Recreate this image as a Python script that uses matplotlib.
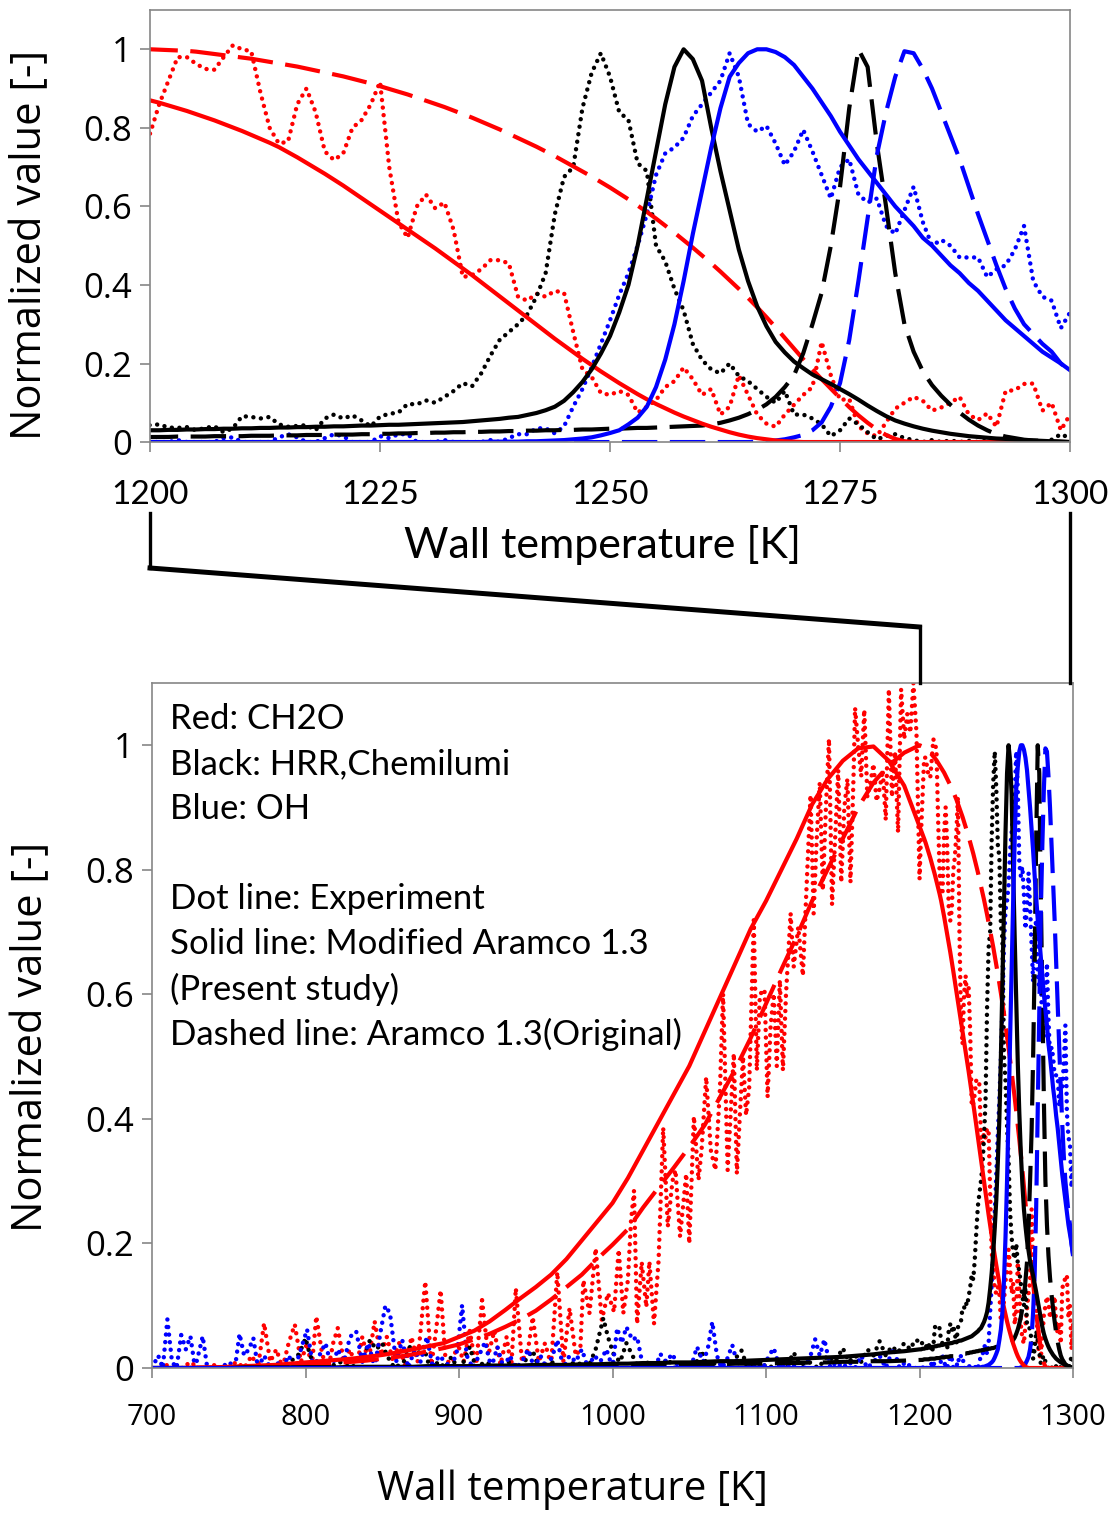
import matplotlib
matplotlib.use("Agg")
import matplotlib.pyplot as plt
from matplotlib.lines import Line2D

# ---------------- data ----------------
# model grid: coarse part for the overview, 1 K steps for the zoom range
T_coarse = list(range(700, 1200, 10))
T_fine = list(range(1200, 1301))
T_model = T_coarse + T_fine

# CH2O, modified Aramco 1.3 (solid)
red_solid = [0, 0, 0, .001, .001, .002, .003, .004, .005, .007,
             .009, .011, .013, .015, .018, .021, .025, .030, .035, .040,
             .050, .060, .075, .093, .112, .130, .150, .175, .205, .235,
             .265, .305, .350, .395, .440, .485, .540, .595, .650, .705,
             .750, .800, .850, .905, .945, .975, .995, .998, .975, .935,
             # 1200-1300
             .870, .864, .857, .850, .843, .835, .827, .819, .810, .801,
             .792, .782, .772, .762, .751, .738, .725, .711, .697, .683,
             .668, .653, .637, .621, .605, .589, .573, .557, .541, .525,
             .509, .493, .476, .459, .442, .425, .407, .389, .371, .353,
             .335, .317, .299, .281, .263, .246, .229, .212, .196, .180,
             .165, .150, .136, .122, .109, .097, .086, .075, .065, .056,
             .047, .039, .032, .025, .019, .014, .010, .007, .004, .002,
             .001, 0, 0, 0, 0, 0, 0, 0, 0, 0,
             0, 0, 0, 0, 0, 0, 0, 0, 0, 0,
             0, 0, 0, 0, 0, 0, 0, 0, 0, 0,
             0]

# CH2O, original Aramco 1.3 (dashed)
red_dashed = [0, 0, 0, 0, .001, .001, .002, .002, .003, .004,
              .005, .006, .008, .010, .012, .015, .018, .022, .027, .032,
              .038, .046, .055, .066, .078, .092, .110, .130, .150, .175,
              .198, .223, .258, .290, .322, .355, .390, .435, .480, .530,
              .585, .640, .693, .750, .800, .850, .900, .940, .968, .988,
              # 1200-1300
              1.000, .999, .998, .997, .996, .994, .991, .988, .985, .982,
              .979, .976, .972, .968, .964, .960, .956, .951, .946, .941,
              .936, .931, .925, .919, .913, .906, .899, .892, .885, .877,
              .869, .861, .853, .844, .835, .826, .816, .806, .796, .785,
              .774, .763, .752, .740, .728, .715, .702, .689, .676, .662,
              .648, .633, .618, .602, .586, .569, .551, .533, .514, .495,
              .475, .455, .434, .412, .390, .367, .343, .318, .292, .265,
              .238, .211, .185, .160, .136, .112, .089, .068, .049, .032,
              .018, .008, .002, 0, 0, 0, 0, 0, 0, 0,
              0, 0, 0, 0, 0, 0, 0, 0, 0, 0,
              0]

# HRR, modified (solid)
black_solid = [0, 0, 0, 0, 0, 0, .001, .001, .001, .001,
               .001, .001, .001, .002, .002, .002, .002, .002, .003, .003,
               .003, .003, .004, .004, .004, .005, .005, .005, .006, .006,
               .007, .007, .008, .008, .009, .009, .010, .011, .011, .012,
               .013, .014, .015, .016, .017, .018, .020, .022, .025, .027,
               # 1200-1300
               .030, .030, .031, .031, .032, .032, .033, .033, .034, .034,
               .035, .035, .036, .036, .037, .037, .038, .038, .039, .039,
               .040, .040, .041, .042, .042, .043, .044, .044, .045, .046,
               .047, .048, .049, .050, .051, .053, .055, .057, .059, .062,
               .064, .069, .074, .081, .090, .105, .127, .153, .185, .225,
               .270, .330, .400, .500, .620, .740, .860, .955, 1.000, .975,
               .920, .800, .690, .590, .490, .410, .345, .295, .255, .228,
               .205, .188, .172, .160, .148, .135, .122, .108, .093, .079,
               .066, .055, .047, .040, .034, .029, .025, .021, .018, .015,
               .013, .011, .009, .008, .006, .005, .004, .003, .002, .001,
               0]

# HRR, original (dashed)
black_dashed = [0, 0, 0, 0, 0, 0, 0, 0, 0, 0,
                .001, .001, .001, .001, .001, .001, .001, .001, .002, .002,
                .002, .002, .002, .002, .003, .003, .003, .003, .004, .004,
                .004, .004, .005, .005, .005, .006, .006, .006, .007, .007,
                .007, .008, .008, .009, .009, .010, .010, .011, .011, .012,
                # 1200-1300
                .013, .013, .013, .014, .014, .014, .014, .015, .015, .015,
                .015, .016, .016, .016, .017, .017, .017, .018, .018, .018,
                .019, .019, .019, .020, .020, .021, .021, .022, .022, .023,
                .023, .024, .024, .025, .025, .026, .026, .027, .027, .028,
                .028, .029, .029, .030, .030, .031, .031, .032, .032, .033,
                .034, .034, .035, .036, .036, .037, .038, .039, .040, .041,
                .042, .045, .049, .055, .062, .071, .082, .096, .115, .140,
                .170, .226, .300, .380, .500, .650, .850, 1.000, .955, .760,
                .600, .430, .300, .230, .180, .145, .118, .095, .075, .057,
                .042, .030, .020, .014, .010, .006, .004, .003, .002, .001,
                0]

# OH, modified (solid)
blue_solid = [0] * 50 + [
    0, 0, 0, 0, 0, 0, 0, 0, 0, 0,
    0, 0, 0, 0, 0, 0, 0, 0, 0, 0,
    0, 0, 0, 0, 0, 0, 0, 0, 0, 0,
    0, 0, 0, 0, 0, 0, 0, .001, .001, .001,
    .001, .002, .002, .003, .004, .005, .007, .009, .012, .017,
    .023, .030, .045, .062, .090, .140, .210, .300, .410, .530,
    .640, .750, .850, .930, .965, .990, 1.000, 1.000, .993, .980,
    .960, .930, .900, .865, .830, .790, .755, .720, .690, .660,
    .630, .600, .575, .550, .520, .500, .475, .450, .430, .405,
    .385, .360, .335, .310, .290, .270, .250, .230, .215, .200,
    .183]

# OH, original (dashed)
blue_dashed = [0] * 50 + [0] * 60 + [
    0, 0, 0, 0, 0, 0, .001, .002, .004, .007,
    .012, .018, .030, .050, .090, .150, .260, .410, .570, .730,
    .840, .930, .995, .990, .950, .900, .840, .780, .720, .650,
    .580, .515, .450, .390, .340, .300, .275, .250, .230, .200,
    .180]

# experiments (dotted): irregular below 1200 K, 1 K steps above
T_exp_fine = list(range(1200, 1301))

red_exp_T = [700, 705, 710, 715, 720, 725, 730, 735, 740, 745,
             750, 755, 760, 765, 769, 773, 777, 781, 785, 789,
             793, 797, 801, 804, 807, 811, 815, 818, 821, 825,
             829, 833, 837, 841, 845, 849, 853, 857, 861, 865,
             869, 873, 878, 882, 885, 888, 891, 895, 899, 903,
             907, 911, 915, 919, 923, 927, 931, 934, 937, 941,
             945, 948, 952, 956, 960, 964, 968, 972, 976, 979,
             981, 985, 989, 993, 997, 1001, 1004, 1007, 1010, 1012,
             1014, 1016, 1019, 1022, 1024, 1027, 1030, 1033, 1036, 1039,
             1041, 1044, 1048, 1050, 1053, 1056, 1058, 1061, 1064, 1067,
             1070, 1072, 1075, 1079, 1081, 1083, 1085, 1087, 1089, 1092,
             1094, 1096, 1099, 1101, 1103, 1105, 1107, 1109, 1111, 1113,
             1116, 1118, 1121, 1124, 1126, 1129, 1131, 1133, 1135, 1137,
             1139, 1141, 1143, 1145, 1147, 1149, 1151, 1153, 1155, 1157,
             1158, 1160, 1162, 1164, 1166, 1168, 1170, 1172, 1174, 1176,
             1178, 1180, 1182, 1184, 1186, 1188, 1190, 1192, 1194, 1196,
             1198] + T_exp_fine
red_exp = [0, 0, .005, 0, 0, .010, 0, 0, .005, 0,
           0, .010, 0, .020, 0, .072, .010, .030, 0, .040,
           .070, .010, .040, 0, .083, .020, 0, .040, .064, .010,
           .030, 0, .050, .010, .075, .020, .050, .010, .040, 0,
           .050, .010, .139, .005, .060, .125, .020, 0, .040, .010,
           .060, 0, .109, .020, .060, .005, .050, 0, .128, .010,
           .030, .082, .010, .040, .005, .154, .010, .096, .020, .030,
           .141, .088, .192, .077, .120, .090, .190, .088, .141, .235,
           .285, .071, .170, .098, .171, .071, .173, .386, .227, .300,
           .318, .211, .312, .200, .404, .302, .350, .467, .350, .318,
           .450, .601, .318, .505, .312, .409, .500, .406, .450, .719,
           .478, .600, .608, .435, .550, .601, .485, .623, .478, .600,
           .730, .644, .708, .630, .750, .920, .730, .850, .940, .767,
           .900, 1.010, .744, .850, .960, .780, .900, .946, .780, .950,
           1.060, 1.000, .950, 1.057, .917, .940, .970, .910, .930, .960,
           .880, 1.090, .917, .990, .860, 1.090, 1.010, 1.050, 1.020, 1.100,
           1.020,
           # 1200-1300
           .785, .860, .920, .980, .980, .963, .950, .948, .980, 1.010,
           1.000, .995, .890, .800, .760, .765, .860, .900, .840, .740,
           .718, .735, .800, .820, .860, .917, .700, .560, .520, .600,
           .630, .595, .610, .540, .420, .425, .440, .463, .463, .455,
           .370, .360, .378, .370, .385, .380, .280, .185, .166, .125,
           .120, .130, .120, .075, .090, .107, .140, .155, .190, .160,
           .120, .135, .070, .090, .170, .120, .070, .047, .039, .070,
           .095, .120, .140, .255, .170, .107, .110, .040, .022, .015,
           .050, .085, .100, .115, .105, .080, .088, .100, .115, .070,
           .056, .073, .039, .130, .132, .148, .149, .080, .100, .030,
           .070]

black_exp_T = [700, 710, 720, 730, 740, 750, 760, 770, 780, 785,
               790, 795, 798, 800, 803, 807, 815, 822, 830, 838,
               842, 846, 850, 853, 858, 864, 868, 872, 877, 881,
               887, 891, 895, 899, 903, 907, 911, 917, 925, 933,
               940, 944, 948, 952, 960, 968, 976, 984, 989, 992,
               994, 997, 1001, 1005, 1009, 1013, 1017, 1024, 1030, 1036,
               1040, 1047, 1053, 1058, 1062, 1068, 1075, 1080, 1084, 1088,
               1095, 1102, 1108, 1113, 1118, 1122, 1128, 1134, 1140, 1145,
               1150, 1154, 1158, 1162, 1166, 1170, 1174, 1178, 1182, 1186,
               1190, 1194, 1197] + T_exp_fine
black_exp = [0, 0, 0, 0, 0, 0, 0, 0, .005, 0,
             .010, .020, .035, .048, .020, 0, 0, .010, 0, .020,
             .045, .030, .040, .020, 0, .010, .034, .020, .034, 0,
             .010, 0, .018, 0, .010, .034, 0, .010, 0, .010,
             0, .015, .028, 0, .010, 0, .010, 0, .030, .060,
             .080, .050, .020, .010, .040, .020, 0, .010, 0, .015,
             0, .010, 0, .028, 0, .010, 0, .015, .028, 0,
             .010, 0, .010, 0, .025, .005, .010, 0, .020, .010,
             .032, .010, .020, .010, .030, .020, .043, .020, .035, .025,
             .040, .030, .045,
             # 1200-1300
             .043, .045, .037, .036, .038, .030, .036, .040, .025, .035,
             .066, .064, .060, .064, .045, .039, .041, .043, .030, .060,
             .070, .060, .068, .055, .040, .065, .072, .075, .097, .096,
             .106, .100, .115, .130, .150, .142, .175, .220, .260, .280,
             .300, .325, .370, .430, .580, .675, .700, .850, .940, .990,
             .930, .840, .820, .710, .690, .500, .460, .390, .335, .250,
             .209, .185, .175, .200, .168, .155, .135, .115, .100, .130,
             .070, .070, .060, .045, .015, .030, .060, .045, .025, .007,
             .015, .020, .010, .005, 0, .005, 0, .004, 0, .003,
             0, .004, 0, .002, 0, .005, 0, 0, .006, .020,
             .010]

blue_exp_T = [700, 704, 707, 710, 713, 716, 719, 722, 725, 728,
              731, 733, 736, 740, 745, 750, 754, 757, 760, 763,
              766, 769, 773, 777, 781, 785, 789, 793, 797, 801,
              805, 809, 813, 817, 821, 825, 829, 833, 837, 841,
              845, 849, 852, 855, 859, 863, 867, 871, 875, 879,
              883, 887, 891, 895, 899, 902, 905, 909, 913, 917,
              921, 925, 929, 933, 937, 941, 945, 949, 953, 957,
              961, 964, 968, 972, 976, 980, 984, 988, 992, 996,
              1000, 1003, 1006, 1009, 1013, 1016, 1020, 1024, 1028, 1031,
              1035, 1039, 1043, 1047, 1051, 1055, 1059, 1062, 1065, 1068,
              1071, 1074, 1078, 1082, 1086, 1090, 1094, 1098, 1102, 1105,
              1109, 1113, 1117, 1121, 1125, 1129, 1132, 1135, 1138, 1142,
              1146, 1150, 1154, 1158, 1162, 1166, 1170, 1174, 1178, 1183,
              1187, 1191, 1195] + T_exp_fine
blue_exp = [0, .020, 0, .078, .010, 0, .053, .030, .051, 0,
            .030, .051, 0, 0, 0, .010, 0, .055, .020, .030,
            .048, 0, .020, 0, .010, 0, .020, 0, .030, .062,
            0, .020, .040, 0, .030, .010, .050, .059, .010, .040,
            0, .060, .100, .088, .010, .045, 0, .030, .010, .050,
            0, .020, .010, 0, .030, .101, .020, 0, .020, .042,
            0, .034, 0, .020, 0, .010, .030, 0, .020, 0,
            .020, .045, 0, .020, .010, .030, 0, .020, .010, .030,
            0, .064, .040, .066, .045, .050, 0, .010, 0, .023,
            .010, .023, 0, .010, 0, .034, .010, .030, .074, .020,
            0, .010, .037, 0, .010, 0, .010, 0, .020, .032,
            0, .010, 0, .010, 0, .020, .046, .020, .046, 0,
            .010, 0, .010, 0, .020, 0, .010, .020, 0, .032,
            0, .010, 0,
            # 1200-1300
            0, 0, 0, .005, 0, 0, 0, 0, .010, .012,
            0, 0, 0, 0, .012, .020, .012, 0, 0, .010,
            .020, .015, 0, 0, 0, .015, .010, .020, .020, 0,
            0, 0, .005, 0, 0, 0, 0, .005, 0, .010,
            .020, .020, .035, .035, .022, .040, .090, .135, .190, .250,
            .310, .375, .430, .500, .580, .680, .735, .750, .775, .830,
            .860, .890, .920, .990, .930, .810, .790, .805, .760, .705,
            .740, .795, .740, .680, .620, .700, .720, .630, .610, .620,
            .550, .530, .590, .650, .560, .500, .515, .500, .470, .470,
            .470, .420, .440, .450, .490, .550, .410, .370, .360, .290,
            .330]

legend_lines = ["Red: CH2O", "Black: HRR,Chemilumi", "Blue: OH", "",
                "Dot line: Experiment", "Solid line: Modified Aramco 1.3",
                "(Present study)", "Dashed line: Aramco 1.3(Original)"]

y_ticks = [0, 0.2, 0.4, 0.6, 0.8, 1.0]
y_ticklabels = ["0", "0.2", "0.4", "0.6", "0.8", "1"]
zoom_ticks = [1200, 1225, 1250, 1275, 1300]
full_ticks = [700, 800, 900, 1000, 1100, 1200, 1300]

# ---------------- drawing ----------------
plt.rcParams['font.family'] = ['Open Sans', 'DejaVu Sans']

RED, BLACK, BLUE = '#ff0000', '#000000', '#0000ff'
dot = (0, (0.01, 1.7))
dash = (0, (8.5, 3.0))
LW = 3.0
LW_DOT = 3.2


def draw(ax):
    ax.plot(red_exp_T, red_exp, color=RED, lw=LW_DOT, ls=dot, dash_capstyle='round')
    ax.plot(black_exp_T, black_exp, color=BLACK, lw=LW_DOT, ls=dot, dash_capstyle='round')
    ax.plot(blue_exp_T, blue_exp, color=BLUE, lw=LW_DOT, ls=dot, dash_capstyle='round')
    ax.plot(T_model, red_dashed, color=RED, lw=LW, ls=dash)
    ax.plot(T_model, black_dashed, color=BLACK, lw=LW, ls=dash)
    ax.plot(T_model, blue_dashed, color=BLUE, lw=LW, ls=dash)
    ax.plot(T_model, red_solid, color=RED, lw=LW)
    ax.plot(T_model, black_solid, color=BLACK, lw=LW)
    ax.plot(T_model, blue_solid, color=BLUE, lw=LW)
    ax.set_ylim(0, 1.1)
    ax.set_yticks(y_ticks)
    ax.set_yticklabels(y_ticklabels)
    for s in ax.spines.values():
        s.set_color('#868686')
        s.set_linewidth(1.2)
    ax.tick_params(direction='out', length=7, width=1.2, color='#868686',
                   labelsize=21)
    ax.tick_params(axis='y', pad=6, labelsize=25)


fig = plt.figure(figsize=(11.13, 15.17), dpi=100)
ax1 = fig.add_axes([0.1348, 0.7086, 0.8266, 0.2848])
ax2 = fig.add_axes([0.1366, 0.0982, 0.8275, 0.4516])

draw(ax1)
ax1.set_xlim(1200, 1300)
ax1.set_xticks(zoom_ticks)
ax1.tick_params(axis='x', pad=20)
for lab in ax1.get_xticklabels():
    lab.set_family(['Lato', 'DejaVu Sans'])
    lab.set_fontsize(24)
ax1.set_xlabel("Wall temperature [K]", fontsize=31,
               family=['Lato', 'DejaVu Sans'])
ax1.xaxis.set_label_coords(0.492, -0.238)
ax1.xaxis.label.set_va('center')
ax1.set_ylabel("Normalized value [-]", fontsize=30)
ax1.yaxis.set_label_coords(-0.107, 0.456)

draw(ax2)
ax2.set_xlim(700, 1300)
ax2.set_xticks(full_ticks)
ax2.tick_params(axis='x', pad=18)
ax2.set_xlabel("Wall temperature [K]", fontsize=29)
ax2.xaxis.set_label_coords(0.457, -0.178)
ax2.xaxis.label.set_va('center')
ax2.set_ylabel("Normalized value [-]", fontsize=30)
ax2.yaxis.set_label_coords(-0.109, 0.483)

# explanation text in the lower panel
for i, line in enumerate(legend_lines):
    if line:
        ax2.text(0.0195, 0.947 - i * 0.0657, line, transform=ax2.transAxes,
                 fontsize=25, family=['Lato', 'DejaVu Sans'], va='center',
                 ha='left')

# zoom connector lines
fig.canvas.draw()
inv = fig.transFigure.inverted()
xl_top = inv.transform(ax1.transData.transform((1200, 0)))[0]
xr_top = inv.transform(ax1.transData.transform((1300, 0)))[0]
xl_bot = inv.transform(ax2.transData.transform((1200, 0)))[0]
y_start = 1 - 513 / 1517
y_bend1 = 1 - 568 / 1517
y_bend2 = 1 - 627 / 1517
y_end = ax2.get_position().y1
fig.add_artist(Line2D([xl_top, xl_top], [y_start, y_bend1], color='black', lw=2.4,
                      transform=fig.transFigure))
fig.add_artist(Line2D([xl_top, xl_bot], [y_bend1, y_bend2], color='black', lw=3.6,
                      transform=fig.transFigure))
fig.add_artist(Line2D([xl_bot, xl_bot], [y_bend2, y_end], color='black', lw=2.4,
                      transform=fig.transFigure))
fig.add_artist(Line2D([xr_top, xr_top], [y_start, y_end], color='black', lw=2.4,
                      transform=fig.transFigure))

fig.savefig("out.png", dpi=100)
